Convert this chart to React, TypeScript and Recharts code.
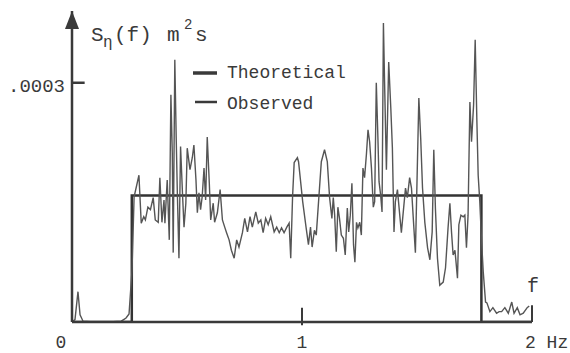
import {
  LineChart,
  Line,
  XAxis,
  YAxis,
  ReferenceLine,
  ReferenceDot,
} from "recharts";

// frequency in Hz, spectral density in units of 1e-4 m^2 s
const theoreticalFreq = [0, 0.26, 0.26, 1.78, 1.78, 2];
const theoreticalDensity = [0, 0, 1.585, 1.585, 0, 0];

const observedFreq = [
  0, 0.013, 0.026, 0.035, 0.048, 0.096, 0.161, 0.214, 0.235, 0.248,
  0.261, 0.27, 0.291, 0.301, 0.312, 0.319, 0.33, 0.341, 0.353, 0.362,
  0.375, 0.382, 0.391, 0.4, 0.404, 0.414, 0.423, 0.43, 0.436, 0.44,
  0.447, 0.453, 0.458, 0.465, 0.472, 0.481, 0.487, 0.495, 0.501, 0.513,
  0.523, 0.53, 0.539, 0.545, 0.552, 0.559, 0.566, 0.574, 0.581, 0.588,
  0.597, 0.603, 0.614, 0.62, 0.632, 0.644, 0.654, 0.664, 0.672, 0.683,
  0.693, 0.705, 0.716, 0.726, 0.741, 0.751, 0.763, 0.774, 0.784, 0.799,
  0.81, 0.821, 0.831, 0.842, 0.853, 0.864, 0.879, 0.89, 0.901, 0.911,
  0.922, 0.934, 0.944, 0.951, 0.959, 0.966, 0.98, 0.985, 1.003, 1.018,
  1.028, 1.037, 1.044, 1.054, 1.062, 1.072, 1.084, 1.098, 1.11, 1.12,
  1.13, 1.136, 1.142, 1.149, 1.156, 1.163, 1.171, 1.18, 1.188, 1.197,
  1.203, 1.21, 1.217, 1.224, 1.23, 1.237, 1.243, 1.251, 1.258, 1.265,
  1.272, 1.28, 1.287, 1.294, 1.302, 1.31, 1.316, 1.323, 1.33, 1.335,
  1.342, 1.348, 1.354, 1.359, 1.367, 1.377, 1.386, 1.393, 1.4, 1.406,
  1.415, 1.425, 1.432, 1.439, 1.45, 1.458, 1.468, 1.476, 1.483, 1.493,
  1.5, 1.508, 1.516, 1.524, 1.534, 1.546, 1.556, 1.566, 1.573, 1.58,
  1.589, 1.599, 1.614, 1.624, 1.635, 1.643, 1.65, 1.657, 1.665, 1.676,
  1.682, 1.691, 1.701, 1.708, 1.715, 1.722, 1.73, 1.737, 1.746, 1.753,
  1.76, 1.766, 1.773, 1.781, 1.788, 1.798, 1.804, 1.817, 1.83, 1.846,
  1.857, 1.868, 1.882, 1.897, 1.912, 1.922, 1.936, 1.948, 1.962, 1.979,
  1.988,
];

const observedDensity = [
  0, 0.03, 0.38, 0.09, 0.01, 0, 0, 0.01, 0.05, 0.1,
  0.65, 1.57, 1.84, 1.24, 1.32, 1.28, 1.44, 1.41, 1.56, 1.28,
  1.25, 1.81, 1.25, 1.53, 1.24, 1.78, 1.03, 2.85, 2.12, 0.87,
  3.29, 2.32, 1.62, 0.8, 2.2, 1.57, 1.19, 1.49, 2.18, 1.91,
  2.06, 2.22, 1.78, 1.37, 1.62, 1.41, 1.57, 1.93, 1.53, 2.32,
  1.74, 1.28, 1.49, 1.25, 1.37, 1.66, 1.28, 1.19, 1.12, 1.03,
  0.9, 0.8, 1.03, 0.94, 1.12, 1.3, 1.13, 1.32, 1.19, 1.38,
  1.24, 1.28, 1.12, 1.3, 1.22, 1.32, 1.13, 1.19, 1.12, 1.18,
  1.12, 1.19, 1.24, 0.8, 1.57, 2.0, 2.06, 2.01, 1.51, 1.18,
  0.97, 1.19, 0.94, 1.15, 1.09, 1.51, 2.01, 2.16, 2.01, 1.56,
  1.3, 1.56, 1.34, 0.88, 1.44, 1.3, 1.09, 1.05, 0.84, 1.43,
  1.13, 1.34, 1.74, 0.97, 0.75, 1.25, 1.18, 1.25, 1.09, 1.93,
  1.81, 2.1, 2.41, 2.26, 1.93, 1.44, 1.51, 3.0, 2.31, 1.76,
  1.59, 1.38, 3.75, 3.01, 1.91, 3.26, 2.69, 2.18, 1.13, 1.51,
  1.66, 1.34, 1.12, 1.34, 1.68, 1.56, 1.81, 1.68, 1.34, 0.87,
  1.76, 2.81, 2.31, 1.68, 1.25, 0.93, 0.78, 1.13, 2.16, 1.43,
  0.8, 0.46, 0.5, 0.68, 1.18, 1.49, 1.13, 0.84, 0.9, 0.55,
  1.22, 1.34, 1.32, 1.34, 0.93, 1.34, 2.76, 2.26, 2.72, 3.54,
  2.56, 1.84, 1.51, 1.0, 0.63, 0.25, 0.24, 0.13, 0.18, 0.11,
  0.13, 0.13, 0.18, 0.11, 0.25, 0.11, 0.18, 0.09, 0.11, 0.18,
  0.2,
];

const seriesNames = ["Theoretical", "Observed"];
const xTicks = [0, 1, 2];
const xTickLabels = ["0", "1", "2 Hz"];
const yTicks = [3];
const yTickLabels = [".0003"];

const theoretical = theoreticalFreq.map((f, i) => ({ f, s: theoreticalDensity[i] }));
const observed = observedFreq.map((f, i) => ({ f, s: observedDensity[i] }));

const FONT = "'Liberation Mono', 'Courier New', monospace";
const INK = "#3a3a3a";

function XTick({ x, payload }: any) {
  const i = xTicks.indexOf(payload.value);
  const label = xTickLabels[i];
  if (i === 2) {
    return (
      <text x={x - 7} y={348} fontSize={18} fontFamily={FONT} fill={INK} textAnchor="start">
        {label}
      </text>
    );
  }
  return (
    <text x={i === 0 ? x - 11 : x} y={348} fontSize={18} fontFamily={FONT} fill={INK} textAnchor="middle">
      {label}
    </text>
  );
}

function YTick({ x, y, payload }: any) {
  const label = yTickLabels[yTicks.indexOf(payload.value)];
  return (
    <text x={x} y={y + 9} fontSize={19} fontFamily={FONT} fill={INK} textAnchor="end">
      {label}
    </text>
  );
}

const arrow = ({ cx, cy }: any) => (
  <path d={`M${cx},${cy} L${cx - 7},${cy + 18} L${cx + 7},${cy + 18} Z`} fill={INK} />
);

export default function App() {
  return (
    <div style={{ position: "absolute", left: 0, top: 0, background: "#fff" }}>
      <LineChart
        width={570}
        height={353}
        margin={{ top: 11, right: 38, bottom: 0, left: 0 }}
      >
        <XAxis
          type="number"
          dataKey="f"
          domain={[0, 2]}
          ticks={xTicks}
          tick={<XTick />}
          tickLine={false}
          tickSize={0}
          tickMargin={0}
          height={31}
          allowDataOverflow
          axisLine={{ stroke: INK, strokeWidth: 2.5 }}
        />
        <YAxis
          type="number"
          domain={[0, 3.9]}
          ticks={yTicks}
          tick={<YTick />}
          tickLine={false}
          tickSize={0}
          tickMargin={7}
          width={72}
          allowDataOverflow
          axisLine={{ stroke: INK, strokeWidth: 2.5 }}
        />
        <ReferenceLine
          segment={[{ x: 0, y: 3 }, { x: 0.055, y: 3 }]}
          stroke={INK}
          strokeWidth={2.5}
          ifOverflow="visible"
        />
        <ReferenceLine
          segment={[{ x: 1, y: -0.04 }, { x: 1, y: 0.18 }]}
          stroke={INK}
          strokeWidth={2}
          ifOverflow="visible"
        />
        <ReferenceLine
          segment={[{ x: 2, y: 0 }, { x: 2, y: 0.21 }]}
          stroke={INK}
          strokeWidth={2}
          ifOverflow="visible"
        />
        <ReferenceDot x={0} y={3.9} r={0} shape={arrow} ifOverflow="visible" />
        <Line
          data={theoretical}
          dataKey="s"
          name={seriesNames[0]}
          type="linear"
          stroke="#333"
          strokeWidth={2.5}
          dot={false}
          isAnimationActive={false}
        />
        <Line
          data={observed}
          dataKey="s"
          name={seriesNames[1]}
          type="linear"
          stroke="#555"
          strokeWidth={1.4}
          dot={false}
          isAnimationActive={false}
        />
        {/* legend */}
        <line x1={193} x2={217} y1={73} y2={73} stroke={INK} strokeWidth={3.5} />
        <text x={227} y={78} fontSize={18} fontFamily={FONT} fill={INK}>{seriesNames[0]}</text>
        <line x1={195} x2={217} y1={102} y2={102} stroke={INK} strokeWidth={2.5} />
        <text x={227} y={109} fontSize={18} fontFamily={FONT} fill={INK}>{seriesNames[1]}</text>
        {/* axis titles */}
        <text x={91} y={41} fontSize={21} fontFamily={FONT} fill={INK}>S</text>
        <text x={103} y={47} fontSize={16} fontFamily={FONT} fill={INK}>η</text>
        <text x={114} y={41} fontSize={21} fontFamily={FONT} fill={INK}>(f)</text>
        <text x={167} y={41} fontSize={21} fontFamily={FONT} fill={INK}>m</text>
        <text x={184} y={29} fontSize={14} fontFamily={FONT} fill={INK}>2</text>
        <text x={195} y={41} fontSize={21} fontFamily={FONT} fill={INK}>s</text>
        <text x={533} y={292} fontSize={20} fontFamily={FONT} fill={INK} textAnchor="middle">f</text>
      </LineChart>
    </div>
  );
}
